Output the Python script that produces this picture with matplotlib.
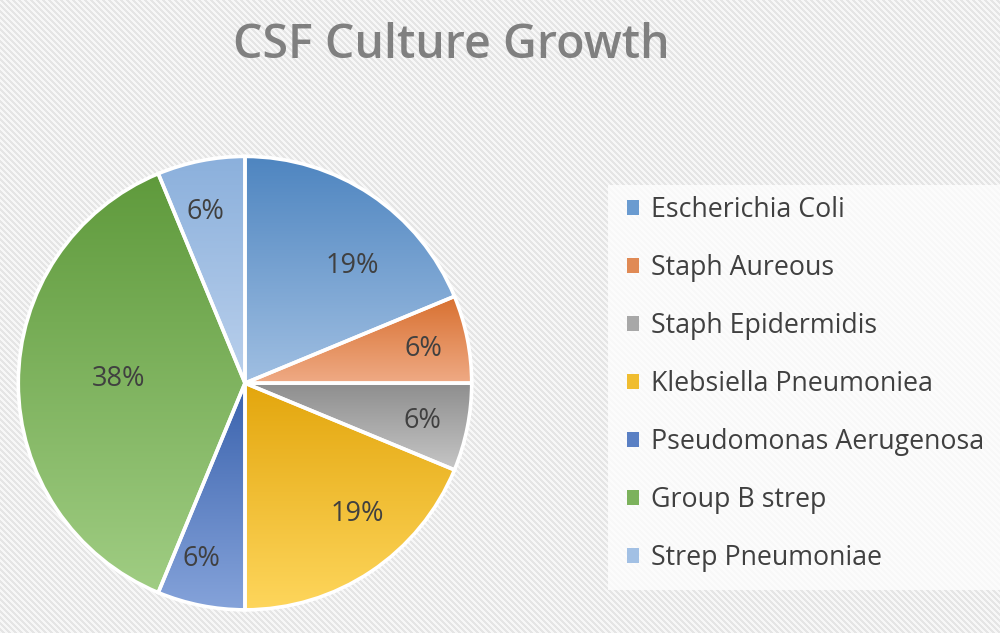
# -*- coding: utf-8 -*-

import numpy as np
import matplotlib.pyplot as plt
from matplotlib.patches import Patch, Rectangle
from matplotlib.colors import LinearSegmentedColormap

plt.rcParams['font.family'] = ['Open Sans', 'DejaVu Sans']

labels = ["Escherichia Coli", "Staph Aureous", "Staph Epidermidis",
          "Klebsiella Pneumoniea", "Pseudomonas Aerugenosa", "Group B strep",
          "Strep Pneumoniae"]
counts = [3, 1, 1, 3, 1, 6, 1]

# gradient per slice: darker at top, lighter at bottom
top_colors = ["#4e85c0", "#d8702f", "#8e8e8e", "#e3a60d", "#3a62ad", "#5f9a3c", "#8bb0dc"]
bottom_colors = ["#a0bfe2", "#efaa85", "#c6c6c6", "#fed65c", "#85a3da", "#a0cd83", "#bad0ec"]
legend_colors = ["#6a9bd0", "#e08a55", "#a8a8a8", "#f0bd30", "#5a80c4", "#7cb25c", "#a2c0e4"]

# where the percentages sit (angle in degrees, fraction of radius)
label_ang = [47.6, 10.8, -12.1, -49.5, -104, 178, 103]
label_rad = [0.70, 0.80, 0.80, 0.76, 0.80, 0.56, 0.775]

fig = plt.figure(figsize=(10, 6.33), dpi=100)

# striped background
bg = fig.add_axes([0, 0, 1, 1], zorder=-5)
yy, xx = np.mgrid[0:633, 0:1000]
stripes = ((xx - yy) % 6) < 3
bg.imshow(np.where(stripes, 0.895, 0.965), cmap='gray', vmin=0, vmax=1,
          interpolation='nearest', aspect='auto')
bg.axis('off')

ax = fig.add_axes([0.016, 0.033, 0.458, 0.7235])
wedges, _ = ax.pie(counts, startangle=90, counterclock=False, radius=1,
                   wedgeprops=dict(facecolor='none', edgecolor='white', linewidth=2.6))

for w, c0, c1 in zip(wedges, top_colors, bottom_colors):
    bb = w.get_path().get_extents()
    grad = np.linspace(0, 1, 256)[:, None]
    cmap = LinearSegmentedColormap.from_list('g', [c0, c1])
    im = ax.imshow(grad, cmap=cmap, extent=[bb.x0, bb.x1, bb.y0, bb.y1],
                   origin='upper', aspect='auto', zorder=1, interpolation='bilinear')
    im.set_clip_path(w)
    w.set_zorder(2)

total = sum(counts)
for c, a, r in zip(counts, label_ang, label_rad):
    t = np.deg2rad(a)
    ax.text(r * np.cos(t), r * np.sin(t), '%.0f%%' % (100.0 * c / total),
            ha='center', va='center', fontsize=19.5, color='#404040', zorder=3)

ax.set_xlim(-1.01, 1.01)
ax.set_ylim(-1.01, 1.01)
ax.set_aspect('equal')
ax.axis('off')

# see-through white legend panel
fig.patches.append(Rectangle((0.608, 1 - 590 / 633), 0.392, 405 / 633,
                             transform=fig.transFigure, facecolor='white',
                             alpha=0.75, edgecolor='none', zorder=-1))
handles = [Patch(facecolor=c, edgecolor='none') for c in legend_colors]
fig.legend(handles, labels, loc='center left', bbox_to_anchor=(0.627, 0.3934),
           frameon=False, borderpad=0, borderaxespad=0, fontsize=19.3,
           handlelength=0.46, handleheight=0.46, handletextpad=0.42,
           labelspacing=1.12, labelcolor='#404040')

fig.text(0.451, 1 - 45 / 633, "CSF Culture Growth", ha='center', va='center',
         fontsize=33.5, color='#808080', fontweight='semibold')

fig.savefig('out.png', dpi=100)
